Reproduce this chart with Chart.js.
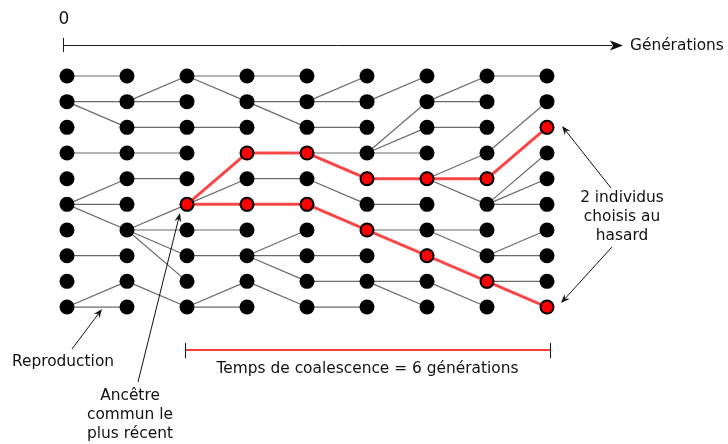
<!DOCTYPE html>
<html>
<head>
<meta charset="utf-8">
<script src="https://cdn.jsdelivr.net/npm/chart.js@4/dist/chart.umd.min.js"></script>
<style>
  html, body { margin: 0; padding: 0; background: #fff; }
  canvas { display: block; }
</style>
</head>
<body>
<canvas id="coal" width="728" height="444"></canvas>
<script>
// generations (columns) and individuals (rows)
var generations = [0, 1, 2, 3, 4, 5, 6, 7, 8];
var individuals = [0, 1, 2, 3, 4, 5, 6, 7, 8, 9];

// for each step g -> g+1 : [parent row, child row]
var links = [
    [[0,0],[1,1],[1,2],[3,3],[5,4],[5,5],[5,6],[7,7],[9,8],[9,9]],
    [[1,0],[1,1],[2,2],[3,3],[4,4],[6,5],[6,6],[6,7],[6,8],[8,9]],
    [[0,0],[0,1],[2,2],[5,3],[5,4],[5,5],[6,6],[7,7],[9,8],[9,9]],
    [[0,0],[1,1],[1,2],[3,3],[4,4],[5,5],[7,6],[7,7],[7,8],[8,9]],
    [[1,0],[1,1],[2,2],[3,3],[3,4],[4,5],[5,6],[7,7],[8,8],[9,9]],
    [[1,0],[3,1],[3,2],[3,3],[4,4],[5,5],[6,6],[6,7],[8,8],[8,9]],
    [[1,0],[1,1],[2,2],[4,3],[4,4],[4,5],[6,6],[6,7],[7,8],[8,9]],
    [[0,0],[3,1],[4,2],[5,3],[5,4],[5,5],[7,6],[7,7],[8,8],[8,9]]
];

// the two lineages traced back to the common ancestor (generations 2..8)
var lineageGens = [2, 3, 4, 5, 6, 7, 8];
var lineageA = [5, 3, 3, 4, 4, 4, 2];
var lineageB = [5, 5, 5, 6, 7, 8, 9];

function init(){
    var datasets = [];

    // gray reproduction links
    for (var g = 0; g < links.length; g++) {
        for (var k = 0; k < links[g].length; k++) {
            datasets.push({
                data: [{x: generations[g], y: links[g][k][0]}, {x: generations[g + 1], y: links[g][k][1]}],
                showLine: true,
                borderColor: '#6a6a6a',
                borderWidth: 1.2,
                pointRadius: 0,
                order: 4
            });
        }
    }

    // red lineages
    [lineageA, lineageB].forEach(function(rows){
        datasets.push({
            data: lineageGens.map(function(gen, i){ return {x: gen, y: rows[i]}; }),
            showLine: true,
            borderColor: 'rgba(255,60,60,0.9)',
            borderWidth: 3,
            pointRadius: 0,
            order: 3
        });
    });

    // all individuals
    var nodes = [];
    generations.forEach(function(gen){
        individuals.forEach(function(r){ nodes.push({x: gen, y: r}); });
    });
    datasets.push({
        data: nodes,
        pointRadius: 7.5,
        pointBackgroundColor: '#000',
        pointBorderWidth: 0,
        order: 2
    });

    // individuals on the lineages
    var redNodes = [];
    lineageGens.forEach(function(gen, i){
        redNodes.push({x: gen, y: lineageA[i]});
        if (i > 0) redNodes.push({x: gen, y: lineageB[i]});
    });
    datasets.push({
        data: redNodes,
        pointRadius: 6.3,
        pointBackgroundColor: '#ff0000',
        pointBorderColor: '#000',
        pointBorderWidth: 1.6,
        order: 1
    });

    var arrow = function(ctx, x1, y1, x2, y2){
        var a = Math.atan2(y2 - y1, x2 - x1);
        ctx.beginPath();
        ctx.moveTo(x1, y1);
        ctx.lineTo(x2 - 6 * Math.cos(a), y2 - 6 * Math.sin(a));
        ctx.stroke();
        ctx.beginPath();
        ctx.moveTo(x2, y2);
        ctx.lineTo(x2 - 9 * Math.cos(a) + 3.5 * Math.sin(a), y2 - 9 * Math.sin(a) - 3.5 * Math.cos(a));
        ctx.lineTo(x2 - 6 * Math.cos(a), y2 - 6 * Math.sin(a));
        ctx.lineTo(x2 - 9 * Math.cos(a) - 3.5 * Math.sin(a), y2 - 9 * Math.sin(a) + 3.5 * Math.cos(a));
        ctx.closePath();
        ctx.fill();
    };

    var annotations = {
        id: 'annotations',
        afterDraw: function(chart){
            var ctx = chart.ctx;
            var xs = chart.scales.x;
            ctx.save();
            ctx.fillStyle = '#111';
            ctx.strokeStyle = '#111';
            ctx.lineWidth = 1;
            ctx.textBaseline = 'middle';

            // generation axis
            ctx.font = '17px "DejaVu Sans"';
            ctx.textAlign = 'center';
            ctx.fillText('0', 64, 20);
            ctx.strokeStyle = '#2a1414';
            ctx.beginPath();
            ctx.moveTo(63.5, 38); ctx.lineTo(63.5, 52);
            ctx.moveTo(63.5, 45.5); ctx.lineTo(612, 45.5);
            ctx.stroke();
            ctx.beginPath();
            ctx.moveTo(623, 45.5); ctx.lineTo(610, 40.5); ctx.lineTo(613, 45.5); ctx.lineTo(610, 50.5);
            ctx.closePath();
            ctx.fill();
            ctx.font = '15.4px "DejaVu Sans"';
            ctx.textAlign = 'left';
            ctx.fillText('Générations', 630, 46);

            // coalescence time
            var xa = xs.getPixelForValue(lineageGens[0]) - 2;
            var xb = xs.getPixelForValue(lineageGens[lineageGens.length - 1]) + 3;
            ctx.strokeStyle = '#ff0000';
            ctx.lineWidth = 1.5;
            ctx.beginPath();
            ctx.moveTo(xa, 350); ctx.lineTo(xb, 350);
            ctx.stroke();
            ctx.strokeStyle = '#111';
            ctx.lineWidth = 1;
            ctx.beginPath();
            ctx.moveTo(Math.round(xa) + 0.5, 343); ctx.lineTo(Math.round(xa) + 0.5, 358);
            ctx.moveTo(Math.round(xb) + 0.5, 343); ctx.lineTo(Math.round(xb) + 0.5, 358);
            ctx.stroke();
            ctx.textAlign = 'center';
            ctx.fillText('Temps de coalescence = ' + (lineageGens.length - 1) + ' générations', (xa + xb) / 2, 369);

            // labels with arrows
            ctx.fillText('Reproduction', 63, 362);
            arrow(ctx, 72, 349, 102, 309);

            ctx.fillText('Ancêtre', 130, 396);
            ctx.fillText('commun le', 130, 415);
            ctx.fillText('plus récent', 130, 434);
            arrow(ctx, 138, 382, 180, 213);

            ctx.fillText('2 individus', 622, 198);
            ctx.fillText('choisis au', 622, 217);
            ctx.fillText('hasard', 622, 236);
            arrow(ctx, 611, 188, 562, 126);
            arrow(ctx, 612, 247, 561, 303);

            ctx.restore();
        }
    };

    // 60 px per generation, ~25.7 px per individual; axes hidden
    var ctx = document.getElementById('coal').getContext('2d');
    var chart = new Chart(ctx, {
        type: 'scatter',
        data: { datasets: datasets },
        options: {
            responsive: false,
            animation: false,
            devicePixelRatio: 1,
            layout: { padding: 0, autoPadding: false },
            plugins: { legend: { display: false }, tooltip: { enabled: false } },
            scales: {
                x: { type: 'linear', display: false, min: -67 / 60, max: (728 - 67) / 60 },
                y: { type: 'linear', display: false, reverse: true, min: -76 / 25.67, max: (444 - 76) / 25.67 }
            }
        },
        plugins: [annotations]
    });
}

window.onload = init;
</script>
</body>
</html>
